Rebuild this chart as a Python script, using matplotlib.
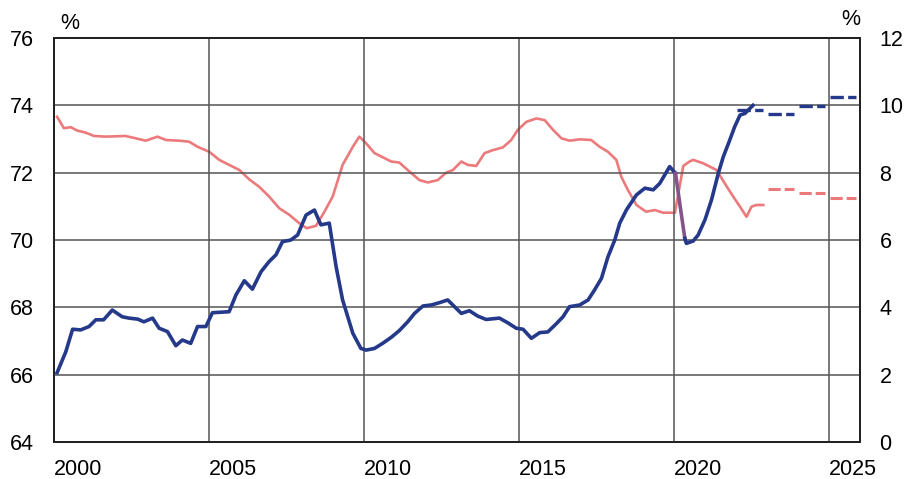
import matplotlib
matplotlib.use("Agg")
import matplotlib.pyplot as plt

plt.rcParams['font.family'] = ['Liberation Sans', 'DejaVu Sans']

# employment rate (left axis, %)
empYears = [2000.1, 2000.38, 2000.6, 2000.86, 2001.13, 2001.35, 2001.6, 2001.88,
            2002.2, 2002.42, 2002.7, 2002.9, 2003.18, 2003.39, 2003.66, 2003.93,
            2004.14, 2004.41, 2004.63, 2004.9, 2005.11, 2005.65, 2005.87, 2006.14,
            2006.4, 2006.68, 2006.94, 2007.16, 2007.37, 2007.64, 2007.86, 2008.13,
            2008.4, 2008.61, 2008.88, 2009.1, 2009.31, 2009.64, 2009.9, 2010.07,
            2010.34, 2010.6, 2010.88, 2011.14, 2011.41, 2011.63, 2011.9, 2012.17,
            2012.44, 2012.7, 2012.92, 2013.14, 2013.4, 2013.67, 2013.94, 2014.37,
            2014.64, 2014.91, 2015.13, 2015.4, 2015.67, 2015.93, 2016.2, 2016.42,
            2016.63, 2016.96, 2017.23, 2017.44, 2017.66, 2017.87, 2018.09, 2018.25,
            2018.47, 2018.79, 2019.06, 2019.33, 2019.54, 2019.86, 2020.05]
empRate = [66.06, 66.68, 67.35, 67.33, 67.43, 67.63, 67.63, 67.92,
           67.72, 67.68, 67.65, 67.57, 67.68, 67.38, 67.28, 66.86,
           67.03, 66.93, 67.43, 67.43, 67.84, 67.87, 68.37, 68.79,
           68.54, 69.06, 69.36, 69.56, 69.95, 70.0, 70.15, 70.74,
           70.89, 70.45, 70.5, 69.21, 68.22, 67.23, 66.78, 66.73,
           66.78, 66.93, 67.11, 67.31, 67.57, 67.82, 68.04, 68.07,
           68.14, 68.22, 68.02, 67.82, 67.9, 67.74, 67.64, 67.68,
           67.54, 67.38, 67.35, 67.08, 67.25, 67.27, 67.51, 67.72,
           68.02, 68.07, 68.22, 68.52, 68.86, 69.5, 70.0, 70.5,
           70.9, 71.34, 71.54, 71.49, 71.68, 72.18, 71.98]
# covid drop (drawn purple in the original)
dropYears = [2020.05, 2020.2, 2020.35]
dropRate = [71.98, 71.0, 70.05]
empYears2 = [2020.35, 2020.4, 2020.62, 2020.78, 2021.0, 2021.21, 2021.43, 2021.59,
             2021.8, 2021.96, 2022.13, 2022.29, 2022.45, 2022.55]
empRate2 = [70.05, 69.9, 69.97, 70.15, 70.6, 71.19, 71.98, 72.47,
            72.97, 73.37, 73.71, 73.76, 73.91, 74.0]

# unemployment rate (right axis, %)
unYears = [2000.1, 2000.32, 2000.54, 2000.75, 2001.02, 2001.29, 2001.67, 2002.31,
           2002.64, 2002.96, 2003.34, 2003.61, 2004.04, 2004.36, 2004.63, 2005.01,
           2005.33, 2005.65, 2005.98, 2006.3, 2006.62, 2006.94, 2007.27, 2007.59,
           2007.91, 2008.15, 2008.45, 2008.7, 2008.99, 2009.31, 2009.64, 2009.85,
           2010.07, 2010.34, 2010.6, 2010.88, 2011.14, 2011.47, 2011.79, 2012.06,
           2012.38, 2012.65, 2012.87, 2013.14, 2013.35, 2013.62, 2013.89, 2014.16,
           2014.48, 2014.75, 2014.96, 2015.24, 2015.56, 2015.83, 2016.1, 2016.37,
           2016.63, 2016.96, 2017.33, 2017.6, 2017.87, 2018.14, 2018.3, 2018.51,
           2018.79, 2019.1, 2019.38, 2019.65, 2020.03, 2020.3, 2020.5, 2020.62,
           2020.94, 2021.37, 2021.64, 2021.91, 2022.13, 2022.34, 2022.5, 2022.66,
           2022.88]
unRate = [9.66, 9.32, 9.35, 9.25, 9.19, 9.09, 9.07, 9.09,
          9.02, 8.95, 9.07, 8.97, 8.95, 8.92, 8.77, 8.62,
          8.38, 8.23, 8.08, 7.8, 7.58, 7.29, 6.94, 6.75,
          6.5, 6.35, 6.42, 6.8, 7.29, 8.23, 8.77, 9.07,
          8.87, 8.58, 8.46, 8.33, 8.30, 8.03, 7.78, 7.71,
          7.78, 8.0, 8.08, 8.33, 8.23, 8.2, 8.58, 8.67,
          8.75, 8.97, 9.27, 9.51, 9.61, 9.56, 9.27, 9.02,
          8.95, 8.99, 8.97, 8.77, 8.62, 8.38, 7.88, 7.49,
          7.04, 6.84, 6.89, 6.81, 6.81, 8.2, 8.33, 8.38,
          8.28, 8.08, 7.68, 7.29, 6.99, 6.69, 6.99, 7.04,
          7.04]

# annual forecasts (dashed)
empFcYears = [2022, 2023, 2024, 2025]
empFc = [73.86, 73.73, 73.98, 74.24]
unFcYears = [2023, 2024, 2025]
unFc = [7.51, 7.39, 7.24]

blue = '#25398a'
red = '#ec7a7c'
purple = '#85548a'
gridCol = '#555555'
fs = 15.5

fig = plt.figure(figsize=(9.06, 4.79), dpi=100)
ax = fig.add_axes([0.0596, 0.0772, 0.8896, 0.8435])
ax2 = ax.twinx()

ax.set_xlim(2000, 2026)
ax.set_ylim(64, 76)
ax2.set_ylim(0, 12)

ax.set_yticks(range(64, 77, 2))
ax2.set_yticks(range(0, 13, 2))
ax.set_xticks(range(2000, 2026, 5))
ax.set_xticklabels([str(y) for y in range(2000, 2026, 5)], ha='left')

ax.tick_params(axis='both', length=0, labelsize=fs)
ax.tick_params(axis='y', pad=14.5)
ax.tick_params(axis='x', pad=12)
ax2.tick_params(axis='y', length=0, labelsize=fs, pad=14)

for y in range(66, 76, 2):
    ax.axhline(y, color=gridCol, lw=1.1, zorder=0)
for x in range(2005, 2026, 5):
    ax.axvline(x, color=gridCol, lw=1.1, zorder=0)

for a in (ax, ax2):
    for s in a.spines.values():
        s.set_color('#222222')
        s.set_linewidth(1.4)

# unemployment on right axis
ax2.plot(unYears, unRate, color=red, lw=1.9, solid_joinstyle='round')
for yr, v in zip(unFcYears, unFc):
    ax2.plot([yr + 0.03, yr + 0.88], [v, v], color=red, lw=2.2,
             dashes=(4, 1.3), solid_capstyle='butt')

# employment on left axis (drawn on top)
ax.set_zorder(ax2.get_zorder() + 1)
ax.patch.set_visible(False)
ax.plot(empYears, empRate, color=blue, lw=2.6, solid_joinstyle='round')
ax.plot(dropYears, dropRate, color=purple, lw=2.6, solid_joinstyle='round')
ax.plot(empYears2, empRate2, color=blue, lw=2.6, solid_joinstyle='round')
for yr, v in zip(empFcYears, empFc):
    ax.plot([yr + 0.03, yr + 0.88], [v, v], color=blue, lw=2.4,
            dashes=(4, 1.3), solid_capstyle='butt')

ax.text(0.008, 1.01, '%', transform=ax.transAxes, fontsize=fs,
        ha='left', va='bottom')
ax.text(1.0, 1.02, '%', transform=ax.transAxes, fontsize=fs,
        ha='right', va='bottom')

fig.savefig('out.png', dpi=100)
